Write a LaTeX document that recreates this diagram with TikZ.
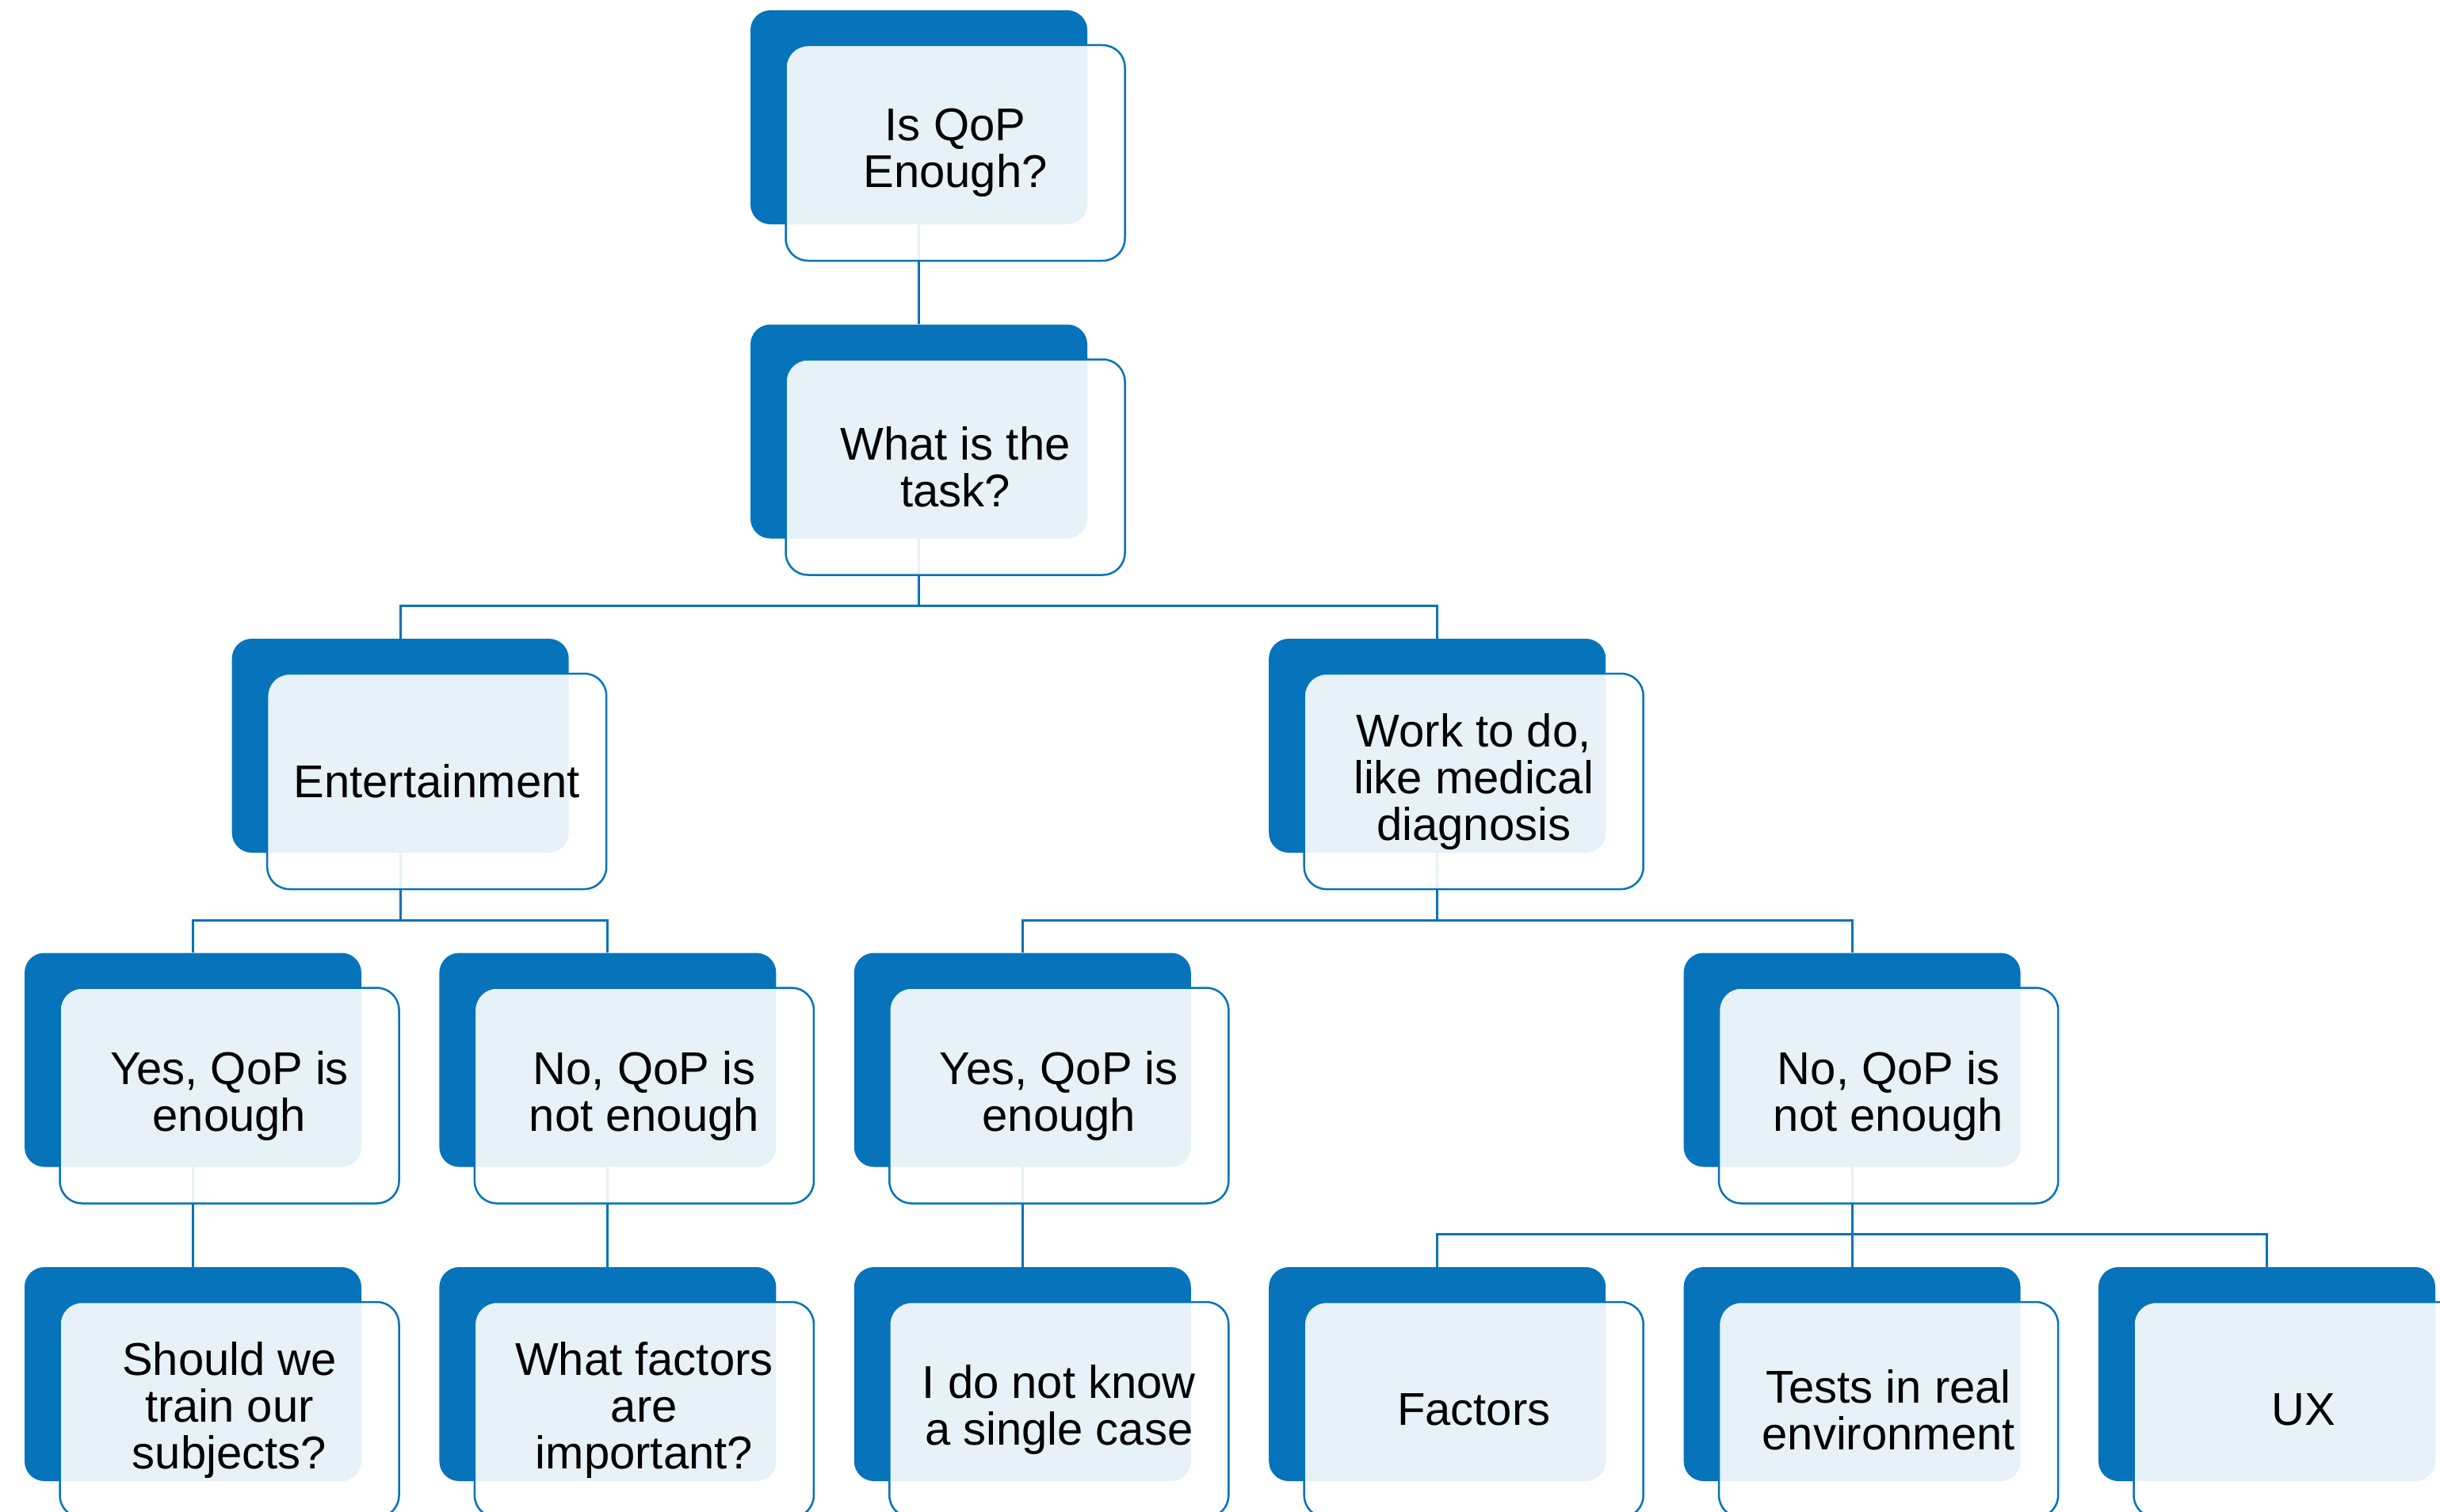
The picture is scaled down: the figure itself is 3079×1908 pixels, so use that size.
\documentclass[tikz,border=0pt]{standalone}
\usepackage{fontspec}
\setmainfont{Liberation Sans}
\usetikzlibrary{calc}
\definecolor{qblue}{RGB}{6,115,186}
\begin{document}
\begin{tikzpicture}[x=1pt,y=-1pt,
  backbox/.style={rectangle, rounded corners=25pt, fill=qblue, draw=none,
    minimum width=425pt, minimum height=270pt, inner sep=0pt},
  frontbox/.style={rectangle, rounded corners=28pt, draw=qblue, line width=2.5pt,
    fill=white, fill opacity=0.9, text opacity=1, text=black,
    minimum width=428pt, minimum height=272pt, inner sep=0pt, align=center,
    font=\fontsize{58}{59}\selectfont},
  conn/.style={draw=qblue, line width=3pt}]
\clip (0,0) rectangle (3079,1908);
\fill[white] (0,0) rectangle (3079,1908);
% back boxes
\node[backbox] (b0) at (1159.5,148) {};
\node[backbox] (b1) at (1159.5,544.5) {};
\node[backbox] (b2a) at (505.2,941) {};
\node[backbox] (b2b) at (1813.7,941) {};
\node[backbox] (b3a) at (243.5,1337.5) {};
\node[backbox] (b3b) at (766.9,1337.5) {};
\node[backbox] (b3c) at (1290.3,1337.5) {};
\node[backbox] (b3d) at (2337.1,1337.5) {};
\node[backbox] (b4a) at (243.5,1734) {};
\node[backbox] (b4b) at (766.9,1734) {};
\node[backbox] (b4c) at (1290.3,1734) {};
\node[backbox] (b4d) at (1813.7,1734) {};
\node[backbox] (b4e) at (2337.1,1734) {};
\node[backbox] (b4f) at (2860.5,1734) {};
% bar levels
\coordinate (bar2) at (0,764);
\coordinate (bar3) at (0,1161);
\coordinate (bar4) at (0,1557);
% connectors
\draw[conn] (b0.south) -- (b1.north);
\foreach \c in {b2a,b2b}
  \draw[conn] (b1.south) -- (b1.south |- bar2) -- (\c.north |- bar2) -- (\c.north);
\foreach \c in {b3a,b3b}
  \draw[conn] (b2a.south) -- (b2a.south |- bar3) -- (\c.north |- bar3) -- (\c.north);
\foreach \c in {b3c,b3d}
  \draw[conn] (b2b.south) -- (b2b.south |- bar3) -- (\c.north |- bar3) -- (\c.north);
\draw[conn] (b3a.south) -- (b4a.north);
\draw[conn] (b3b.south) -- (b4b.north);
\draw[conn] (b3c.south) -- (b4c.north);
\foreach \c in {b4d,b4e,b4f}
  \draw[conn] (b3d.south) -- (b3d.south |- bar4) -- (\c.north |- bar4) -- (\c.north);
% front boxes
\node[frontbox] (f0) at ($(b0.center)+(46,45)$) {Is QoP\\Enough?};
\node[frontbox] (f1) at ($(b1.center)+(46,45)$) {What is the\\task?};
\node[frontbox] (f2a) at ($(b2a.center)+(46,45)$) {Entertainment};
\node[frontbox] (f2b) at ($(b2b.center)+(46,45)$) {Work to do,\\like medical\\diagnosis};
\node[frontbox] (f3a) at ($(b3a.center)+(46,45)$) {Yes, QoP is\\enough};
\node[frontbox] (f3b) at ($(b3b.center)+(46,45)$) {No, QoP is\\not enough};
\node[frontbox] (f3c) at ($(b3c.center)+(46,45)$) {Yes, QoP is\\enough};
\node[frontbox] (f3d) at ($(b3d.center)+(46,45)$) {No, QoP is\\not enough};
\node[frontbox] (f4a) at ($(b4a.center)+(46,45)$) {Should we\\train our\\subjects?};
\node[frontbox] (f4b) at ($(b4b.center)+(46,45)$) {What factors\\are\\important?};
\node[frontbox] (f4c) at ($(b4c.center)+(46,45)$) {I do not know\\a single case};
\node[frontbox] (f4d) at ($(b4d.center)+(46,45)$) {Factors};
\node[frontbox] (f4e) at ($(b4e.center)+(46,45)$) {Tests in real\\environment};
\node[frontbox] (f4f) at ($(b4f.center)+(46,45)$) {UX};
\end{tikzpicture}
\end{document}
